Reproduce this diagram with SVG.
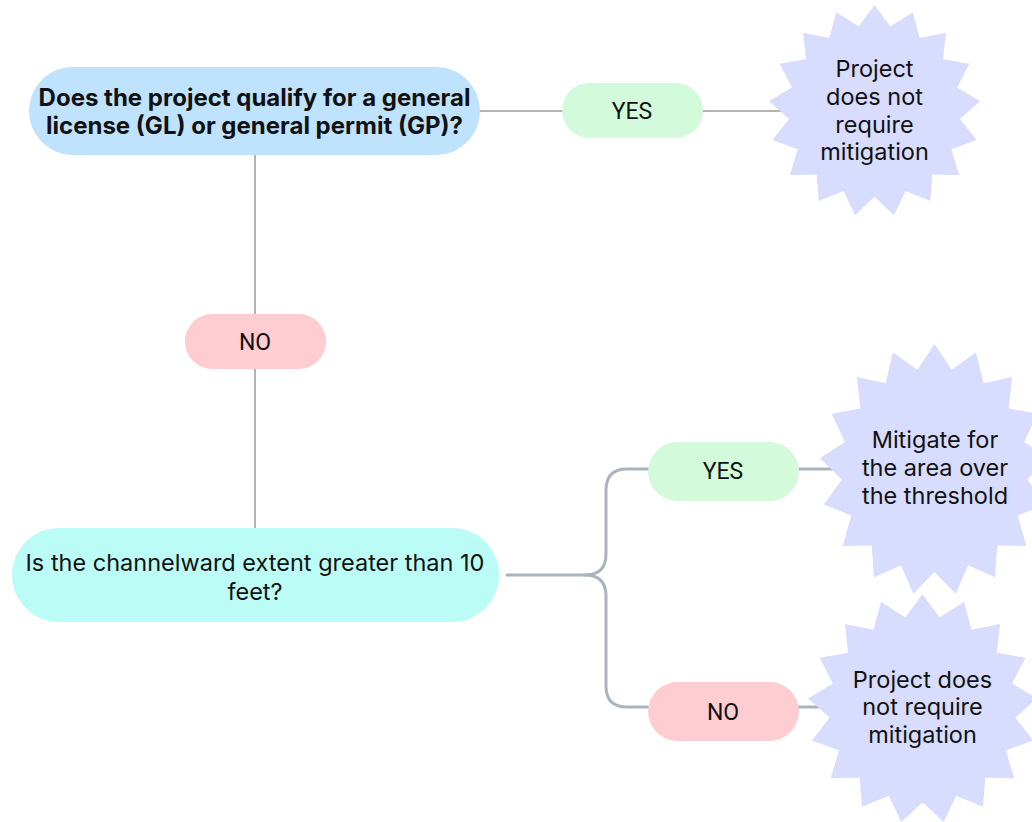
<svg xmlns="http://www.w3.org/2000/svg" xmlns:xlink="http://www.w3.org/1999/xlink" width="1032" height="822" viewBox="0 0 1032 822">
<style>
.line1{fill:none;stroke:#b3b3b3;stroke-width:2}
.line2{fill:none;stroke:#aab4bc;stroke-width:3;stroke-linecap:round}
.q{font-family:Inter,"DejaVu Sans",sans-serif;font-size:23.5px;fill:#111;text-anchor:middle}
.b{font-weight:700;font-size:24px}
.pill{font-family:Roboto,"Liberation Sans",sans-serif;font-size:23px;fill:#111;text-anchor:middle}
.s{font-family:Inter,"DejaVu Sans",sans-serif;font-size:23.5px;fill:#111;text-anchor:middle}
.star{fill:#d8dcfe}
.yes{fill:#d4fadc}
.no{fill:#fecdd2}
</style>
<defs>
<polygon id="burst" points="0,-100 14.88,-79.62 36.12,-93.25 42.64,-68.87 67.37,-73.9 64.64,-48.81 89.52,-44.57 77.91,-22.17 99.57,-9.23 80.65,7.47 96.18,27.37 72.51,36.1 79.8,60.26 54.57,59.86 52.64,85.02 29.26,75.53 18.37,98.3 0,81 -18.37,98.3 -29.26,75.53 -52.64,85.02 -54.57,59.86 -79.8,60.26 -72.51,36.1 -96.18,27.37 -80.65,7.47 -99.57,-9.23 -77.91,-22.17 -89.52,-44.57 -64.64,-48.81 -67.37,-73.9 -42.64,-68.87 -36.12,-93.25 -14.88,-79.62"/>
</defs>
<g id="connectors">
<path class="line1" d="M479,111 H562"/>
<path class="line1" d="M703,111 H790"/>
<path class="line1" d="M255,155 V314"/>
<path class="line1" d="M255,369 V528"/>
<path class="line2" d="M507,575 H585 Q606,575 606,554 V490 Q606,469 627,469 H648"/>
<path class="line2" d="M585,575 Q606,575 606,596 V686 Q606,707 627,707 H648"/>
<path class="line2" d="M799,469 H840"/>
<path class="line2" d="M799,707 H830"/>
</g>
<g id="q1">
<rect x="29" y="67" width="451" height="88" rx="44" fill="#bfe2fd"/>
<text class="q b" x="254.5" y="106">Does the project qualify for a general</text>
<text class="q b" x="254.5" y="134">license (GL) or general permit (GP)?</text>
</g>
<g id="yes1">
<rect class="yes" x="562" y="83" width="141" height="55" rx="27.5"/>
<text class="pill" x="632" y="119">YES</text>
</g>
<g id="no1">
<rect class="no" x="185" y="314" width="141" height="55" rx="27.5"/>
<text class="pill" x="255" y="350">NO</text>
</g>
<g id="q2">
<rect x="12" y="528" width="487" height="94" rx="47" fill="#bcfcf6"/>
<text class="q" x="255" y="571">Is the channelward extent greater than 10</text>
<text class="q" x="255" y="600">feet?</text>
</g>
<g id="yes2">
<rect class="yes" x="648" y="442" width="151" height="59" rx="29.5"/>
<text class="pill" x="723" y="479">YES</text>
</g>
<g id="no2">
<rect class="no" x="648" y="682" width="151" height="59" rx="29.5"/>
<text class="pill" x="723" y="720">NO</text>
</g>
<g id="end1">
<use xlink:href="#burst" class="star" transform="translate(874.5,111) scale(1.06)"/>
<text class="s" x="874.5" y="77">Project</text>
<text class="s" x="874.5" y="105">does not</text>
<text class="s" x="874.5" y="133">require</text>
<text class="s" x="874.5" y="160">mitigation</text>
</g>
<g id="end2">
<use xlink:href="#burst" class="star" transform="translate(934.5,470) scale(1.15,1.26)"/>
<text class="s" x="935" y="448">Mitigate for</text>
<text class="s" x="935" y="476">the area over</text>
<text class="s" x="935" y="504">the threshold</text>
</g>
<g id="end3">
<use xlink:href="#burst" class="star" transform="translate(922.5,709) scale(1.15)"/>
<text class="s" x="922.5" y="688">Project does</text>
<text class="s" x="922.5" y="715">not require</text>
<text class="s" x="922.5" y="743">mitigation</text>
</g>
</svg>
